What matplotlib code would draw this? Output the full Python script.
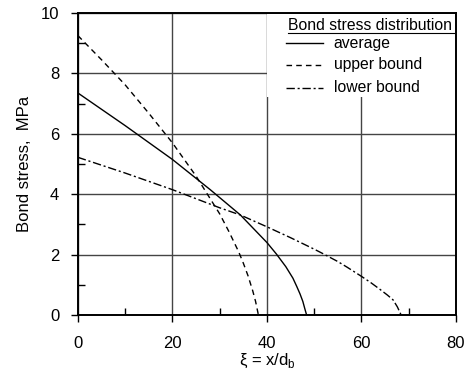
import numpy as np
import matplotlib.pyplot as plt
from matplotlib.lines import Line2D
from matplotlib.patches import Rectangle

plt.rcParams['font.family'] = ['Liberation Sans', 'DejaVu Sans']

# bond stress (MPa) along the normalised anchorage length xi = x/d_b
xi_avg = [0, 10, 20, 28, 34.4, 40, 42, 44, 45.5, 46.3, 47.0, 47.6, 48.0, 48.4]
tau_avg = [7.35, 6.27, 5.15, 4.15, 3.31, 2.4, 2.02, 1.6, 1.22, 0.95, 0.7, 0.45, 0.22, 0.0]

xi_up = [0, 5, 10, 15, 20, 25, 28, 30, 32, 34, 35, 36, 37, 37.6, 38.2]
tau_up = [9.25, 8.45, 7.62, 6.68, 5.7, 4.6, 3.85, 3.35, 2.75, 2.1, 1.72, 1.3, 0.8, 0.45, 0.0]

xi_low = [0, 10, 20, 30, 34.4, 40, 45, 50, 52, 55, 57, 60, 62, 64, 65.5, 66.7, 67.6, 68.4]
tau_low = [5.22, 4.7, 4.15, 3.55, 3.31, 2.92, 2.56, 2.18, 2.02, 1.77, 1.58, 1.28, 1.07, 0.84, 0.66, 0.5, 0.27, 0.0]

legend_labels = ['average', 'upper bound', 'lower bound']
styles = ['-', (0, (4, 3)), (0, (6, 2, 1.5, 2))]

fig = plt.figure(figsize=(4.72, 3.8), dpi=100)
ax = fig.add_axes([0.165, 0.171, 0.801, 0.795])

ax.plot(xi_avg, tau_avg, color='black', lw=1.0, ls=styles[0])
ax.plot(xi_up, tau_up, color='black', lw=1.0, ls=styles[1])
ax.plot(xi_low, tau_low, color='black', lw=1.0, ls=styles[2])

ax.set_xlim(0, 80)
ax.set_ylim(0, 10)
ax.set_xticks([0, 20, 40, 60, 80])
ax.set_yticks([0, 2, 4, 6, 8, 10])
ax.set_xticks([10, 30, 50, 70], minor=True)
ax.set_yticks([1, 3, 5, 7, 9], minor=True)
ax.tick_params(which='major', direction='out', length=5, width=1, labelsize=12)
ax.tick_params(axis='x', which='major', pad=10)
ax.tick_params(axis='y', which='major', pad=8.5)
ax.tick_params(which='minor', direction='in', length=5, width=1)
ax.grid(True, which='major', color='#444444', lw=1.0)
for s in ax.spines.values():
    s.set_linewidth(1.4)
    s.set_zorder(5)

ax.set_xlabel(r'$\mathregular{\xi}$ = x/d$_\mathregular{b}$', fontsize=12, labelpad=1)
ax.set_ylabel('Bond stress,  MPa', fontsize=12, labelpad=6)

# legend block drawn over the grid
ax.add_patch(Rectangle((0.5, 0.722), 0.497, 0.276, transform=ax.transAxes,
                       facecolor='white', edgecolor='none', zorder=3))
ax.text(0.556, 0.943, 'Bond stress distribution', transform=ax.transAxes,
        fontsize=11.3, ha='left', va='baseline', zorder=4)
ax.add_line(Line2D([0.556, 0.994], [0.935, 0.935], transform=ax.transAxes,
                   color='black', lw=0.8, zorder=4))
rows = [0.90, 0.828, 0.752]
for lab, ls, y in zip(legend_labels, styles, rows):
    ax.add_line(Line2D([0.55, 0.648], [y, y], transform=ax.transAxes,
                       color='black', lw=1.0, ls=ls, zorder=4))
    ax.text(0.677, y, lab, transform=ax.transAxes, fontsize=11.3,
            ha='left', va='center', zorder=4)

fig.savefig('out.png', dpi=100)
